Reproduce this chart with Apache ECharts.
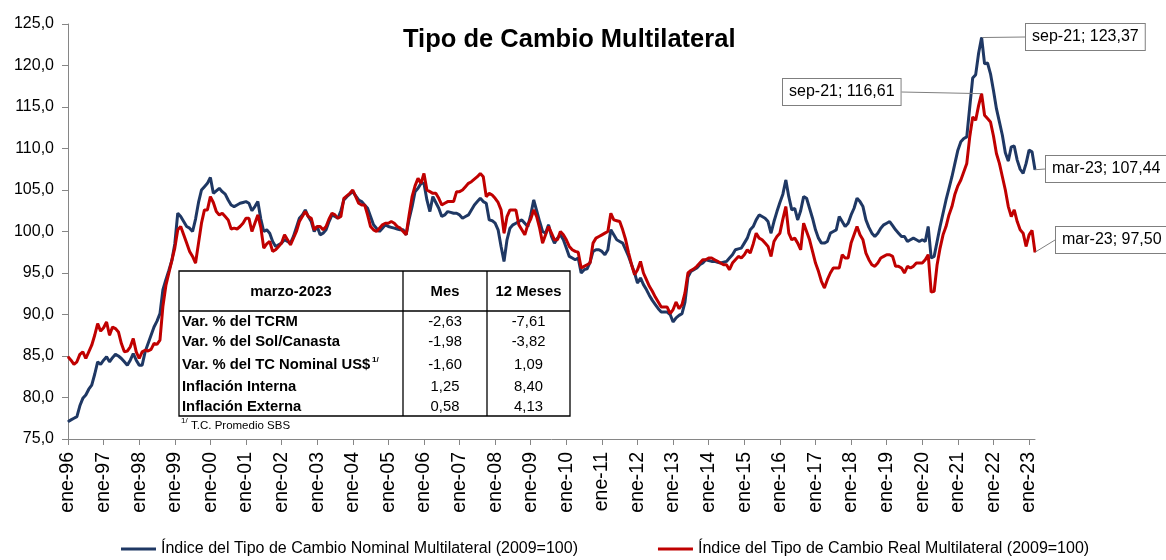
<!DOCTYPE html>
<html>
<head>
<meta charset="utf-8">
<title>Tipo de Cambio Multilateral</title>
<script src="https://cdn.jsdelivr.net/npm/echarts@6.0.0/dist/echarts.min.js"></script>
<style>
  html, body { margin: 0; padding: 0; background: #fff; }
  #chart { width: 1166px; height: 560px; }
</style>
</head>
<body>
<div id="chart"></div>
<script>
// meses y años (ene-96 .. mar-23)
var mesesAbr = ['ene', 'feb', 'mar', 'abr', 'may', 'jun', 'jul', 'ago', 'sep', 'oct', 'nov', 'dic'];
var anios = ['96', '97', '98', '99', '00', '01', '02', '03', '04', '05', '06', '07', '08', '09',
             '10', '11', '12', '13', '14', '15', '16', '17', '18', '19', '20', '21', '22', '23'];

// Indice del Tipo de Cambio Nominal Multilateral (2009=100), mensual
var nominal = [
  77.1, 77.3, 77.5, 77.7, 79.0, 79.9, 80.3, 81.0, 81.5, 82.8, 84.3, 84.0,          // 1996
  84.5, 84.9, 84.3, 84.8, 85.2, 85.0, 84.7, 84.3, 83.9, 84.5, 85.3, 84.5,          // 1997
  83.9, 83.9, 85.5, 86.5, 87.5, 88.5, 89.2, 90.1, 93.0, 94.2, 95.3, 96.5,          // 1998
  98.5, 102.2, 101.8, 101.2, 100.6, 100.4, 100.0, 101.5, 103.5, 105.0, 105.4, 105.8, // 1999
  106.5, 104.6, 104.9, 105.2, 104.8, 104.5, 103.8, 103.2, 103.0, 103.2, 103.4, 103.5, // 2000
  103.6, 103.4, 102.5, 103.0, 103.6, 101.5, 100.0, 100.2, 99.8, 98.8, 98.2, 98.4,  // 2001
  98.6, 99.0, 98.8, 98.6, 99.4, 100.5, 101.6, 102.0, 102.6, 101.8, 101.2, 100.0,   // 2002
  100.6, 99.6, 99.8, 100.2, 101.2, 102.0, 101.8, 101.6, 102.5, 103.8, 104.2, 104.5, // 2003
  104.8, 104.3, 103.8, 103.6, 103.2, 102.8, 101.8, 100.8, 100.4, 100.0, 100.4, 100.8, // 2004
  100.6, 100.5, 100.4, 100.3, 100.2, 100.2, 99.6, 101.5, 103.0, 104.8, 105.2, 105.8, // 2005
  105.8, 103.8, 102.4, 104.2, 103.5, 102.8, 101.8, 102.0, 102.4, 102.3, 102.2, 102.2, // 2006
  102.0, 101.6, 101.8, 102.0, 102.6, 103.2, 103.6, 104.0, 103.6, 103.4, 101.4, 101.3, // 2007
  101.0, 100.2, 98.2, 96.4, 99.0, 100.4, 100.8, 101.0, 101.2, 101.4, 101.0, 100.6, // 2008
  102.0, 103.8, 102.5, 101.2, 100.0, 99.8, 100.8, 99.4, 98.6, 99.2, 99.6, 99.0,    // 2009
  98.0, 97.0, 96.8, 96.6, 96.8, 95.0, 95.4, 95.5, 96.3, 97.6, 97.8, 97.8,          // 2010
  97.6, 97.2, 97.8, 100.2, 99.6, 99.0, 98.8, 98.6, 97.8, 97.0, 96.0, 95.0,         // 2011
  93.8, 94.4, 93.6, 93.0, 92.3, 91.7, 91.2, 90.7, 90.3, 90.3, 90.3, 90.0,          // 2012
  89.1, 89.6, 89.9, 90.1, 91.5, 94.5, 95.2, 95.4, 95.6, 96.0, 96.2, 96.6,          // 2013
  96.5, 96.4, 96.4, 96.3, 96.2, 96.3, 96.4, 96.8, 97.2, 97.8, 97.9, 98.0,          // 2014
  98.6, 99.2, 100.2, 100.6, 101.4, 102.0, 101.8, 101.6, 101.2, 99.8, 101.2, 102.4, // 2015
  103.5, 104.5, 106.2, 104.2, 102.6, 102.8, 101.4, 102.5, 104.2, 104.0, 102.8, 101.6, // 2016
  100.2, 99.2, 98.6, 98.6, 98.8, 99.8, 100.0, 100.2, 101.8, 101.2, 100.6, 101.0,   // 2017
  102.0, 102.8, 104.0, 103.6, 103.0, 101.4, 100.5, 99.8, 99.4, 99.8, 100.4, 100.8, // 2018
  101.0, 101.2, 100.7, 100.2, 99.8, 99.4, 99.4, 98.8, 99.0, 99.2, 99.0, 98.8,      // 2019
  99.0, 98.8, 100.6, 96.8, 97.0, 98.8, 100.6, 102.2, 103.8, 105.2, 106.6, 108.2,   // 2020
  109.8, 110.8, 111.2, 111.4, 115.0, 118.5, 118.9, 121.5, 123.37, 120.2, 120.3, 119.0, // 2021
  117.0, 114.8, 113.2, 111.6, 109.5, 108.5, 110.2, 110.3, 108.6, 107.5, 107.0, 108.2, // 2022
  109.8, 109.6, 107.44                                                              // 2023
];

// Indice del Tipo de Cambio Real Multilateral (2009=100), mensual
var real = [
  84.9, 84.5, 84.0, 84.3, 85.2, 85.5, 84.7, 85.5, 86.3, 87.5, 88.9, 88.0,          // 1996
  88.4, 89.1, 87.5, 88.5, 88.3, 87.9, 86.5, 85.5, 85.6, 86.1, 87.1, 85.5,          // 1997
  84.7, 85.5, 85.7, 85.6, 85.8, 86.5, 86.4, 86.9, 91.0, 93.5, 95.0, 96.5,          // 1998
  98.0, 100.2, 100.6, 99.6, 98.6, 97.6, 97.0, 96.2, 98.6, 101.0, 102.6, 102.6,     // 1999
  104.2, 103.5, 102.4, 102.0, 102.2, 101.8, 101.4, 100.3, 100.4, 100.3, 100.6, 101.0, // 2000
  101.6, 101.6, 100.0, 101.0, 102.0, 100.5, 98.0, 98.5, 98.8, 97.6, 97.8, 98.2,    // 2001
  98.6, 99.6, 99.0, 98.4, 99.2, 100.0, 101.2, 101.8, 102.4, 101.8, 101.6, 100.2,   // 2002
  100.6, 100.6, 100.2, 100.6, 101.5, 102.2, 102.0, 101.6, 101.8, 104.0, 104.3, 104.6, // 2003
  105.0, 104.2, 103.4, 103.2, 103.2, 102.0, 100.6, 100.2, 100.0, 100.4, 100.8, 101.0, // 2004
  101.0, 101.2, 101.0, 100.6, 100.4, 100.0, 99.6, 102.0, 104.2, 105.5, 106.4, 105.8, // 2005
  107.0, 105.0, 104.8, 104.6, 104.6, 104.0, 103.2, 103.4, 103.6, 103.6, 103.6, 104.8, // 2006
  104.8, 105.0, 105.4, 105.8, 106.0, 106.3, 106.6, 107.0, 106.6, 104.2, 104.6, 104.4, // 2007
  104.0, 103.5, 102.6, 99.8, 101.8, 102.6, 102.6, 102.6, 100.8, 100.2, 99.6, 100.8, // 2008
  101.5, 102.6, 101.8, 100.4, 98.6, 99.6, 100.6, 99.8, 99.0, 99.0, 100.0, 99.6,    // 2009
  99.0, 98.2, 97.8, 97.6, 97.5, 95.6, 95.8, 96.0, 96.2, 98.6, 99.2, 99.4,          // 2010
  99.6, 99.8, 100.0, 102.2, 101.4, 101.3, 101.2, 100.2, 99.0, 97.4, 96.0, 94.8,    // 2011
  95.4, 96.4, 95.0, 94.2, 93.4, 92.8, 92.1, 91.5, 90.9, 90.9, 90.9, 90.1,          // 2012
  90.6, 91.5, 90.7, 91.2, 92.6, 95.0, 95.3, 95.5, 95.8, 96.2, 96.6, 96.6,          // 2013
  96.8, 96.8, 96.6, 96.4, 96.2, 96.0, 96.0, 95.4, 96.2, 96.6, 97.0, 96.8,          // 2014
  97.2, 97.8, 97.4, 98.5, 99.8, 99.2, 99.0, 98.6, 98.2, 97.0, 98.8, 99.4,          // 2015
  99.8, 101.5, 103.0, 99.8, 99.0, 99.2, 98.6, 97.8, 101.0, 100.0, 99.0, 97.6,      // 2016
  96.2, 95.2, 94.0, 93.2, 94.2, 95.0, 95.6, 95.6, 95.6, 97.2, 96.8, 96.8,          // 2017
  98.6, 99.6, 100.6, 99.6, 99.0, 97.4, 96.6, 96.0, 95.8, 96.2, 96.8, 97.0,         // 2018
  97.2, 97.2, 97.0, 95.8, 95.8, 95.6, 95.0, 95.8, 95.6, 95.8, 96.2, 96.2,          // 2019
  96.2, 96.6, 97.2, 92.7, 92.8, 96.0, 98.0, 99.6, 100.6, 102.0, 103.0, 104.5,      // 2020
  105.5, 106.2, 107.2, 108.2, 111.4, 113.8, 113.4, 115.2, 116.61, 114.0, 113.6, 113.2, // 2021
  111.5, 109.4, 108.2, 106.6, 105.0, 103.0, 101.8, 102.6, 101.2, 100.2, 99.8, 98.2, // 2022
  99.6, 100.13, 97.50                                                               // 2023
];

var nombreSeries = [
  'Índice del Tipo de Cambio Nominal Multilateral (2009=100)',
  'Índice del Tipo de Cambio Real Multilateral (2009=100)'
];

// cuadro marzo-2023
var cuadroTitulos = ['marzo-2023', 'Mes', '12 Meses'];
var cuadroFilas = ['Var. % del TCRM', 'Var. % del Sol/Canasta', 'Var. % del TC Nominal US$',
                   'Inflación Interna', 'Inflación Externa'];
var cuadroMes = ['-2,63', '-1,98', '-1,60', '1,25', '0,58'];
var cuadro12 = ['-7,61', '-3,82', '1,09', '8,40', '4,13'];

// puntos con etiqueta
var etiquetas = ['sep-21', 'mar-23'];

var meses = [];
anios.forEach(function (a) {
  mesesAbr.forEach(function (m) {
    if (meses.length < nominal.length) meses.push(m + '-' + a);
  });
});

function coma(v, d) { return v.toFixed(d).replace('.', ','); }

// posiciones de las cajas de etiqueta (series -> mes -> caja)
var cajas = [
  { 'sep-21': { x: 1026, y: 37 }, 'mar-23': { x: 1046, y: 169 } },
  { 'sep-21': { x: 783, y: 92 }, 'mar-23': { x: 1056, y: 240 } }
];

var estiloEtiqueta = {
  show: true,
  formatter: function (p) { return p.name + '; ' + coma(p.value, 2); },
  fontSize: 16, color: '#000', fontFamily: 'Liberation Sans, Arial',
  backgroundColor: '#fff', borderColor: '#7f7f7f', borderWidth: 1,
  padding: [4, 6, 4, 6], lineHeight: 18
};

function datos(serie) {
  return serie.map(function (v, i) {
    if (etiquetas.indexOf(meses[i]) >= 0) return { value: v, label: estiloEtiqueta };
    return v;
  });
}

function ubicar(s) {
  return function (p) {
    var c = cajas[s][meses[p.dataIndex]];
    if (!c) return {};
    return { x: c.x, y: c.y, align: 'left', verticalAlign: 'middle', hideOverlap: false, moveOverlap: false };
  };
}

var colores = ['#1F3864', '#C00000'];

function serieLinea(i, valores) {
  return {
    name: nombreSeries[i],
    type: 'line',
    data: datos(valores),
    symbol: 'circle',
    symbolSize: 1,
    showSymbol: true,
    showAllSymbol: true,
    itemStyle: { color: colores[i] },
    lineStyle: { color: colores[i], width: 3 },
    label: { show: false },
    labelLine: { show: true, lineStyle: { color: '#7f7f7f', width: 1 } },
    labelLayout: ubicar(i),
    emphasis: { disabled: true },
    animation: false
  };
}

// cuadro como graficos
var fuente = 'Liberation Sans, Arial';
var cuadro = [];
var tx0 = 179, tx1 = 403, tx2 = 487, tx3 = 570, ty0 = 271, ty1 = 311, ty2 = 416;
cuadro.push({ type: 'rect', shape: { x: tx0, y: ty0, width: tx3 - tx0, height: ty2 - ty0 },
  style: { fill: '#fff', stroke: '#000', lineWidth: 1.3 }, z: 10 });
cuadro.push({ type: 'line', shape: { x1: tx0, y1: ty1, x2: tx3, y2: ty1 }, style: { stroke: '#000', lineWidth: 1.3 }, z: 11 });
cuadro.push({ type: 'line', shape: { x1: tx1, y1: ty0, x2: tx1, y2: ty2 }, style: { stroke: '#000', lineWidth: 1.3 }, z: 11 });
cuadro.push({ type: 'line', shape: { x1: tx2, y1: ty0, x2: tx2, y2: ty2 }, style: { stroke: '#000', lineWidth: 1.3 }, z: 11 });
[(tx0 + tx1) / 2, (tx1 + tx2) / 2, (tx2 + tx3) / 2].forEach(function (cx, i) {
  cuadro.push({ type: 'text', x: cx, y: 292, z: 12,
    style: { text: cuadroTitulos[i], font: 'bold 14.8px ' + fuente, fill: '#000', align: 'center', verticalAlign: 'middle' } });
});
var filasY = [322, 342, 365, 387, 407];
cuadroFilas.forEach(function (t, i) {
  cuadro.push({ type: 'text', x: 182, y: filasY[i], z: 12,
    style: { text: t, font: 'bold 14.8px ' + fuente, fill: '#000', align: 'left', verticalAlign: 'middle' } });
  cuadro.push({ type: 'text', x: (tx1 + tx2) / 2, y: filasY[i], z: 12,
    style: { text: cuadroMes[i], font: '14.8px ' + fuente, fill: '#000', align: 'center', verticalAlign: 'middle' } });
  cuadro.push({ type: 'text', x: (tx2 + tx3) / 2, y: filasY[i], z: 12,
    style: { text: cuadro12[i], font: '14.8px ' + fuente, fill: '#000', align: 'center', verticalAlign: 'middle' } });
});
cuadro.push({ type: 'text', x: 372, y: 360, z: 12,
  style: { text: '1/', font: 'bold 8px ' + fuente, fill: '#000', align: 'left', verticalAlign: 'middle' } });
cuadro.push({ type: 'text', x: 181, y: 421, z: 12,
  style: { text: '1/', font: '8px ' + fuente, fill: '#000', align: 'left', verticalAlign: 'middle' } });
cuadro.push({ type: 'text', x: 191, y: 426, z: 12,
  style: { text: 'T.C. Promedio SBS', font: '11.5px ' + fuente, fill: '#000', align: 'left', verticalAlign: 'middle' } });

var chart = echarts.init(document.getElementById('chart'));
chart.setOption({
  animation: false,
  textStyle: { fontFamily: fuente },
  title: {
    text: 'Tipo de Cambio Multilateral',
    left: 398, top: 22,
    textStyle: { fontSize: 25.5, fontWeight: 'bold', color: '#000', fontFamily: fuente }
  },
  grid: { left: 68, right: 131, top: 24, bottom: 121, containLabel: false },
  legend: {
    data: nombreSeries,
    left: 116, top: 536,
    icon: 'rect', itemWidth: 35, itemHeight: 3, itemGap: 80,
    textStyle: { fontSize: 16, color: '#000', fontFamily: fuente }
  },
  xAxis: {
    type: 'category',
    data: meses,
    boundaryGap: false,
    axisLine: { lineStyle: { color: '#868686', width: 1 } },
    axisTick: { interval: 11, length: 6, lineStyle: { color: '#868686' } },
    axisLabel: { interval: 11, rotate: 90, fontSize: 19.5, color: '#000', margin: 13, fontFamily: fuente }
  },
  yAxis: {
    type: 'value',
    min: 75, max: 125, interval: 5,
    axisLine: { show: true, lineStyle: { color: '#868686', width: 1 } },
    axisTick: { show: true, length: 6, lineStyle: { color: '#868686' } },
    splitLine: { show: false },
    axisLabel: { fontSize: 16, color: '#000', margin: 14, fontFamily: fuente,
      formatter: function (v) { return coma(v, 1); } }
  },
  series: [serieLinea(0, nominal), serieLinea(1, real)],
  graphic: cuadro
});
</script>
</body>
</html>
